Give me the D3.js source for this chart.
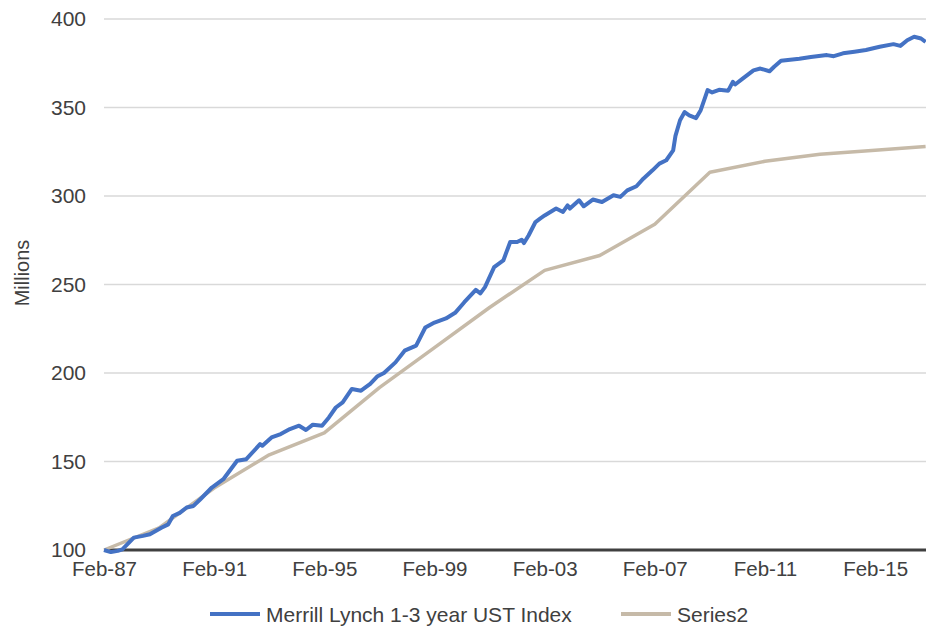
<!DOCTYPE html>
<html>
<head>
<meta charset="utf-8">
<script src="https://cdn.jsdelivr.net/npm/d3@7"></script>
<style>
  html, body { margin: 0; padding: 0; background: #fff; }
  svg { display: block; font-family: "Liberation Sans", Arial, sans-serif; }
</style>
</head>
<body>
<svg id="chart" width="926" height="627"></svg>
<script>
// ---- Data ----
const seriesNames = ["Merrill Lynch 1-3 year UST Index", "Series2"];
const xTickLabels = ["Feb-87", "Feb-91", "Feb-95", "Feb-99", "Feb-03", "Feb-07", "Feb-11", "Feb-15"];
const yTickValues = [100, 150, 200, 250, 300, 350, 400];

const ustDates = ["1987-02","1987-05","1987-08","1987-10","1988-03","1988-07","1988-10","1989-03","1989-06","1989-08","1989-11","1990-02","1990-05","1990-08","1991-01","1991-06","1991-12","1992-04","1992-10","1992-11","1993-03","1993-07","1993-11","1994-03","1994-06","1994-09","1995-01","1995-04","1995-07","1995-10","1996-02","1996-06","1996-10","1997-01","1997-04","1997-09","1998-01","1998-06","1998-10","1999-02","1999-07","1999-11","2000-03","2000-08","2000-10","2000-12","2001-04","2001-08","2001-11","2002-02","2002-04","2002-05","2002-07","2002-10","2002-12","2003-02","2003-07","2003-10","2003-12","2004-01","2004-05","2004-07","2004-11","2005-03","2005-08","2005-11","2006-02","2006-06","2006-09","2007-01","2007-04","2007-07","2007-10","2007-11","2008-01","2008-03","2008-05","2008-08","2008-10","2008-12","2009-01","2009-03","2009-06","2009-10","2009-12","2010-01","2010-04","2010-09","2010-12","2011-04","2011-06","2011-09","2012-05","2012-10","2013-05","2013-08","2013-12","2014-05","2014-10","2015-04","2015-10","2016-01","2016-04","2016-07","2016-10","2016-12"];
const ustValues = [100,98.8,99.5,100.4,107,108,108.9,112.6,114.5,119.2,121,124,124.9,128.7,135.3,140,150.4,151.3,159.8,158.9,163.6,165.5,168.3,170.2,167.8,170.8,170.2,174.9,180.5,183.4,191,190,193.8,198,200,206,212.6,215.5,225.7,228.5,230.8,234,240,247,245,248.5,259.8,263.6,274,274,275.3,273.4,277.7,285.3,287.2,289,292.9,291,294.7,292.9,297.6,294.2,298,296.6,300.4,299.5,303.2,305.5,309.8,314.5,318.3,320.2,325.8,334,342.8,347.4,345.6,344,348.5,356,359.8,358.5,360,359.5,364.5,363,366,371,372,370.5,373,376.4,377.5,378.5,379.6,379,380.6,381.5,382.5,384.3,385.8,384.8,388,390,389,387];

const s2Dates = ["1987-02","1989-02","1991-02","1993-02","1995-02","1997-02","1999-02","2001-02","2003-02","2005-02","2007-02","2009-02","2011-02","2013-02","2015-02","2016-12"];
const s2Values = [100,112.5,135,153.8,166.2,191.7,214.3,237,258,266.4,284,313.4,319.6,323.6,325.8,328];

const colors = ["#4472c4", "#c6baa8"];

// ---- Helpers ----
function monthIndex(s) {
  const [yy, mm] = s.split("-").map(Number);
  return (yy - 1987) * 12 + (mm - 2);
}

const svg = d3.select("#chart");
const plotLeft = 104, plotRight = 926, plotTop = 19, plotBottom = 550;
const pxPerMonth = 27.54 / 12;

const x = d3.scaleLinear().domain([0, 358]).range([plotLeft, plotLeft + 358 * pxPerMonth]);
const y = d3.scaleLinear().domain([100, 400]).range([plotBottom, plotTop]);

// clip
svg.append("defs").append("clipPath").attr("id", "clip")
  .append("rect").attr("x", 0).attr("y", 0).attr("width", plotRight).attr("height", 600);

// gridlines
svg.append("g")
  .selectAll("line")
  .data(yTickValues.filter(v => v !== 100))
  .join("line")
  .attr("x1", plotLeft).attr("x2", plotRight)
  .attr("y1", d => y(d)).attr("y2", d => y(d))
  .attr("stroke", "#d9d9d9").attr("stroke-width", 1.5);

// y axis labels
const yAxis = d3.axisLeft(y).tickValues(yTickValues).tickSize(0).tickPadding(0);
const gy = svg.append("g").attr("transform", "translate(86,0)").call(yAxis);
gy.select(".domain").remove();
gy.selectAll("text").attr("font-size", 21).attr("fill", "#404040")
  .attr("font-family", "Liberation Sans, Arial, sans-serif");

// x axis labels
const xAxis = d3.axisBottom(x)
  .tickValues(xTickLabels.map((d, i) => i * 48))
  .tickFormat((d, i) => xTickLabels[i])
  .tickSize(0).tickPadding(0);
const gx = svg.append("g").attr("transform", "translate(0,561)").call(xAxis);
gx.select(".domain").remove();
gx.selectAll("text").attr("font-size", 20.5).attr("fill", "#404040")
  .attr("font-family", "Liberation Sans, Arial, sans-serif");

// y-axis title
svg.append("text")
  .attr("transform", "translate(29,273) rotate(-90)")
  .attr("text-anchor", "middle")
  .attr("font-size", 20).attr("fill", "#404040")
  .text("Millions");

const line = d3.line().x(d => x(d[0])).y(d => y(d[1]));

const s2Data = s2Dates.map((d, i) => [monthIndex(d), s2Values[i]]);
const ustData = ustDates.map((d, i) => [monthIndex(d), ustValues[i]]);

// x axis line
svg.append("line")
  .attr("x1", plotLeft).attr("x2", plotRight)
  .attr("y1", y(100)).attr("y2", y(100))
  .attr("stroke", "#404040").attr("stroke-width", 2.8);

const plot = svg.append("g").attr("clip-path", "url(#clip)");
plot.append("path").datum(s2Data)
  .attr("d", line).attr("fill", "none")
  .attr("stroke", colors[1]).attr("stroke-width", 3.5).attr("stroke-linejoin", "round");
plot.append("path").datum(ustData)
  .attr("d", line).attr("fill", "none")
  .attr("stroke", colors[0]).attr("stroke-width", 4).attr("stroke-linejoin", "round");

// legend
const legendItems = [
  { name: seriesNames[0], color: colors[0], x: 210 },
  { name: seriesNames[1], color: colors[1], x: 621 }
];
const lg = svg.append("g");
legendItems.forEach(it => {
  lg.append("line").attr("x1", it.x).attr("x2", it.x + 50)
    .attr("y1", 614).attr("y2", 614)
    .attr("stroke", it.color).attr("stroke-width", 4);
  lg.append("text").attr("x", it.x + 56).attr("y", 621.5)
    .attr("font-size", 21).attr("fill", "#404040")
    .text(it.name);
});
</script>
</body>
</html>
